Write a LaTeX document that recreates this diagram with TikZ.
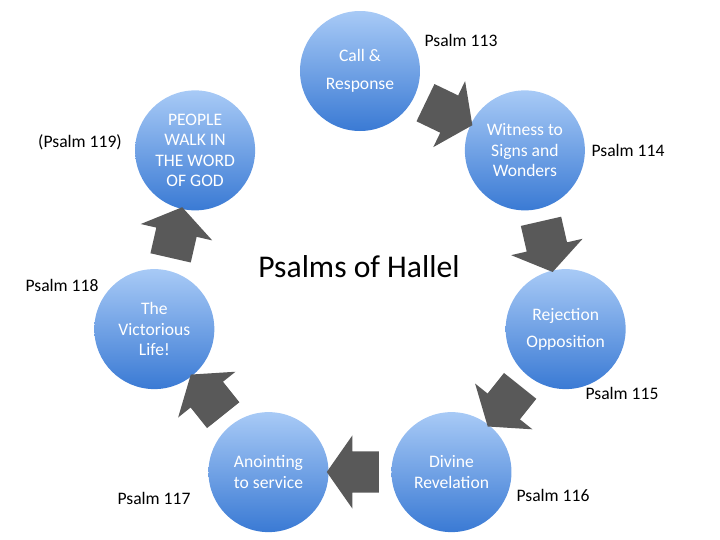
\documentclass[tikz,border=0pt]{standalone}
\usepackage{fontspec}
\setmainfont{Carlito}
\usetikzlibrary{shapes.arrows}
\definecolor{balltop}{RGB}{168,202,246}
\definecolor{ballbottom}{RGB}{58,122,212}
\definecolor{arrowgray}{RGB}{89,89,89}

\begin{document}
\begin{tikzpicture}[
	stage/.style={circle, minimum size=3cm, inner sep=0pt, top color=balltop, bottom color=ballbottom, text=white, align=center, font=\fontsize{12.5}{14.5}\selectfont},
	turn/.style={single arrow, fill=arrowgray, inner xsep=0pt, inner ysep=0.51cm, minimum height=1.3cm, single arrow head extend=0.4cm, single arrow tip angle=110},
	psalm/.style={font=\fontsize{12.5}{14.5}\selectfont}
	]
	\useasboundingbox (-9,-6.45) rectangle (9,7.05);
	
	\node [stage] (call)    at (90:5.275)     {Call \&\\[5pt]Response};
	\node [stage] (witness) at (38.6:5.275)   {Witness to\\Signs and\\Wonders};
	\node [stage] (reject)  at (-12.9:5.275)  {Rejection\\[5pt]Opposition};
	\node [stage] (divine)  at (-64.3:5.275)  {Divine\\Revelation};
	\node [stage] (anoint)  at (-115.7:5.275) {Anointing\\to service};
	\node [stage] (victory) at (-167.1:5.275) {The\\Victorious\\Life!};
	\node [stage] (people)  at (141.4:5.275)  {PEOPLE\\WALK IN\\THE WORD\\OF GOD};
	
	\node [turn, rotate=-25.7] (t1) at (64.3:4.75) {};
	\node [turn, rotate=-77.1] (t2) at (12.9:4.75) {};
	\node [turn, rotate=-128.6] (t3) at (-38.6:4.75) {};
	\node [turn, rotate=180] (t4) at (-90:4.75) {};
	\node [turn, rotate=128.6] (t5) at (-141.4:4.75) {};
	\node [turn, rotate=77.1] (t6) at (167.1:4.75) {};
	
	\node [font=\fontsize{22.5}{26}\selectfont] (hallel) at (-0.025,0.375) {Psalms of Hallel};
	
	\node [psalm] (p113) at (2.525,6.05)   {Psalm 113};
	\node [psalm] (p114) at (6.7,3.3)      {Psalm 114};
	\node [psalm] (p115) at (6.55,-2.775)  {Psalm 115};
	\node [psalm] (p116) at (4.825,-5.325) {Psalm 116};
	\node [psalm] (p117) at (-5.15,-5.4)   {Psalm 117};
	\node [psalm] (p118) at (-7.45,-0.075) {Psalm 118};
	\node [psalm] (p119) at (-7.0,3.5)     {(Psalm 119)};
\end{tikzpicture}
\end{document}
